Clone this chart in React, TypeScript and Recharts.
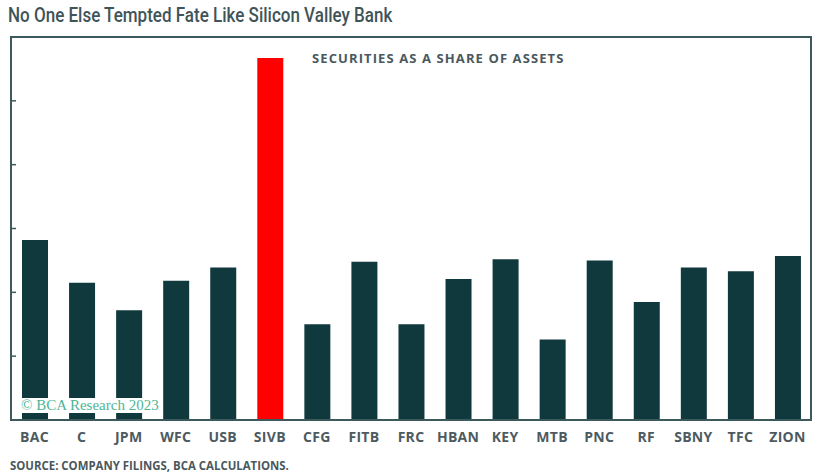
import { Bar, BarChart, Cell, XAxis, YAxis } from "recharts";

// securities as a share of assets, %
const banks = ["BAC", "C", "JPM", "WFC", "USB", "SIVB", "CFG", "FITB", "FRC", "HBAN", "KEY", "MTB", "PNC", "RF", "SBNY", "TFC", "ZION"];
const shares = [28.2, 21.5, 17.2, 21.8, 23.9, 56.7, 15.0, 24.8, 15.0, 22.1, 25.2, 12.6, 25.0, 18.5, 23.9, 23.3, 25.7];
const yTicks = [10, 20, 30, 40, 50];
const highlight = "SIVB";

const data = banks.map((bank, i) => ({ bank, share: shares[i] }));

const DARK = "#10393e";
const FRAME = "#3c5a5c";
const TEXT = "#4a585d";

export default function App() {
  return (
    <div style={{ position: "relative", width: 817, height: 476, background: "#fff", overflow: "hidden" }}>
      <style>{`body{margin:0}`}</style>
      <div
        style={{
          position: "absolute",
          left: 8,
          top: 3,
          fontFamily: "Roboto, sans-serif",
          fontWeight: 500,
          fontSize: 21,
          color: "#3f5459",
          whiteSpace: "nowrap",
          transform: "scaleX(0.81)",
          transformOrigin: "left top",
        }}
      >
        No One Else Tempted Fate Like Silicon Valley Bank
      </div>

      <div style={{ position: "absolute", left: 0, top: 0 }}>
        <BarChart
          width={817}
          height={476}
          data={data}
          margin={{ top: 37, right: 6, bottom: 24, left: 5 }}
          barSize={26}
        >
          <XAxis
            dataKey="bank"
            height={32}
            axisLine={false}
            tickLine={false}
            interval={0}
            tick={{ fill: "#4d5a5f", fontSize: 14, fontWeight: 700, fontFamily: "'Open Sans', sans-serif", letterSpacing: 0.3 }}
            tickMargin={6}
          />
          <YAxis
            domain={[0, 60]}
            ticks={yTicks}
            width={6}
            axisLine={false}
            tickSize={-5}
            tickLine={{ stroke: FRAME, strokeWidth: 1.5 }}
            tickFormatter={() => ""}
          />
          <Bar dataKey="share" isAnimationActive={false}>
            {data.map((d) => (
              <Cell key={d.bank} fill={d.bank === highlight ? "#ff0000" : DARK} />
            ))}
          </Bar>
        </BarChart>
      </div>

      {/* plot frame */}
      <div
        style={{
          position: "absolute",
          left: 10,
          top: 36,
          width: 802,
          height: 385,
          boxSizing: "border-box",
          border: `2px solid ${FRAME}`,
          pointerEvents: "none",
        }}
      />

      <div
        style={{
          position: "absolute",
          left: 312,
          top: 49,
          fontFamily: "'Open Sans', sans-serif",
          fontWeight: 700,
          fontSize: 13,
          letterSpacing: 1.1,
          color: TEXT,
          whiteSpace: "nowrap",
        }}
      >
        SECURITIES AS A SHARE OF ASSETS
      </div>

      <div
        style={{
          position: "absolute",
          left: 13,
          top: 398,
          height: 15,
          padding: "0 3px 0 8px",
          background: "#fff",
          fontFamily: "'Liberation Serif', serif",
          fontSize: 15,
          lineHeight: "15px",
          color: "#4fb595",
          whiteSpace: "nowrap",
        }}
      >
        © BCA Research 2023
      </div>

      <div
        style={{
          position: "absolute",
          left: 10,
          top: 457,
          fontFamily: "'Open Sans', sans-serif",
          fontWeight: 700,
          fontSize: 12,
          color: TEXT,
          whiteSpace: "nowrap",
          transform: "scaleX(0.95)",
          transformOrigin: "left top",
        }}
      >
        SOURCE: COMPANY FILINGS, BCA CALCULATIONS.
      </div>
    </div>
  );
}
